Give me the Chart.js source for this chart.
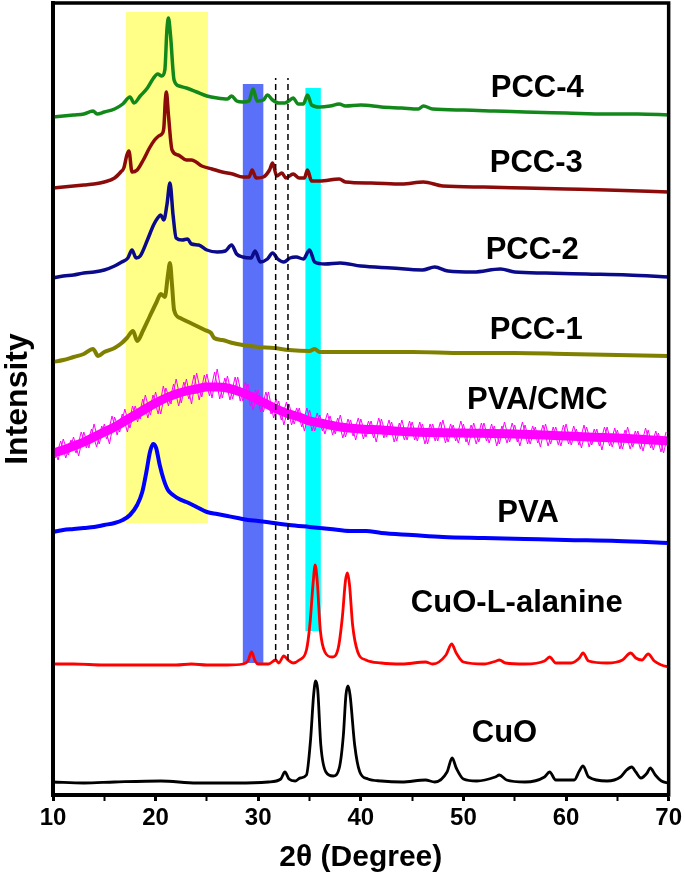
<!DOCTYPE html>
<html>
<head>
<meta charset="utf-8">
<script src="https://cdn.jsdelivr.net/npm/chart.js@4.4.1/dist/chart.umd.min.js"></script>
<style>
    html, body { margin: 0; padding: 0; background: #fff; }
    #wrap { width: 685px; height: 881px; }
</style>
</head>
<body>
<div id="wrap"><canvas id="xrd" width="685" height="881"></canvas></div>
<script>
// 2θ in degrees, intensity in arbitrary units (traces stacked as in the figure)
const pcc4 = [
    [10, 678], [11, 679], [12, 680], [13, 681], [13.9, 684], [14.3, 681], [15, 683], [16, 686],
    [16.8, 691], [17.5, 698], [17.9, 692], [18.5, 699], [19.2, 707], [19.8, 717], [20.2, 721],
    [20.6, 719], [20.9, 725], [21.1, 765], [21.25, 777], [21.45, 760], [21.8, 715], [22.3, 709],
    [23, 707], [24, 703], [25, 699], [26, 697], [27, 696], [27.4, 699], [27.9, 694], [28.5, 693],
    [29.1, 694], [29.5, 706], [29.9, 694], [30.5, 695], [30.9, 700], [31.4, 695], [32, 692],
    [32.6, 692], [33.1, 695], [33.4, 697], [33.9, 691], [34.4, 691], [34.8, 700], [35.2, 690],
    [36, 688], [37, 689], [37.9, 691], [38.5, 689], [40, 690], [42, 688], [44, 687], [45.6, 686],
    [46.1, 689], [47, 686], [50, 685], [53, 684], [56, 683], [60, 682], [64, 681], [67, 681], [70, 680]
];
const pcc3 = [
    [10, 607], [11, 608], [12, 609], [13, 610], [14, 611], [15, 613], [16, 617], [16.6, 623],
    [16.9, 627], [17.2, 640], [17.4, 644], [17.7, 623], [18.2, 625], [18.8, 635], [19.4, 647],
    [19.9, 655], [20.3, 659], [20.6, 661], [20.8, 667], [20.95, 695], [21.05, 703], [21.25, 680],
    [21.6, 645], [22.2, 640], [23, 635], [23.5, 635], [24.5, 629], [25.5, 626], [26.5, 623],
    [27.5, 621], [28.5, 618], [29.1, 618], [29.4, 625], [29.8, 617], [30.5, 618], [31.1, 625],
    [31.4, 632], [31.8, 619], [32.3, 622], [32.7, 617], [33.4, 621], [34, 617], [34.5, 617],
    [34.8, 625], [35.2, 614], [36, 614], [37.9, 616], [38.5, 613], [41, 612], [44, 611],
    [46.1, 613], [48, 609], [52, 608], [56, 607], [60, 606], [64, 605], [70, 603]
];
const pcc2 = [
    [10, 517], [11, 519], [12, 520], [13, 522], [14, 523], [15, 525], [16, 529], [16.7, 533],
    [17.3, 537], [17.7, 545], [18.1, 537], [18.5, 539], [19.2, 555], [19.8, 570], [20.2, 577],
    [20.5, 580], [20.8, 575], [21.1, 590], [21.4, 612], [21.7, 580], [22, 557], [22.6, 555],
    [23.1, 556], [23.5, 551], [24.2, 550], [25, 545], [26, 543], [26.8, 544], [27.4, 550],
    [27.9, 541], [28.5, 538], [29.3, 537], [29.7, 544], [30.2, 533], [30.9, 536], [31.4, 542],
    [31.9, 536], [32.5, 533], [33.1, 537], [33.7, 538], [34.4, 536], [35, 545], [35.5, 533],
    [36.5, 531], [38, 532], [40, 529], [43, 527], [46, 525], [47.2, 528], [48.5, 524], [51, 523],
    [53.6, 526], [55, 523], [58, 522], [62, 521], [66, 520], [70, 518]
];
const pcc1 = [
    [10, 433], [11, 435], [12, 438], [13, 441], [13.9, 446], [14.4, 439], [15, 443], [16, 447],
    [16.7, 452], [17.2, 457], [17.8, 464], [18.2, 454], [18.8, 465], [19.4, 478], [20.1, 493],
    [20.5, 501], [20.9, 498], [21.2, 520], [21.4, 532], [21.6, 510], [21.8, 485], [22.4, 477],
    [23.2, 473], [24, 469], [24.8, 465], [25.4, 462], [25.7, 457], [26.5, 455], [27.5, 452],
    [28.5, 450], [30, 448], [31.5, 447], [33, 445], [35, 444], [35.5, 446], [36, 443], [40, 443],
    [45, 443], [50, 442], [55, 442], [60, 441], [65, 440], [70, 439]
];
// PVA/CMC: centre of the noisy band and two sets of spikes around it
const pvaCmcCentre = [
    [10, 342], [11, 345], [12, 349], [13, 353], [14, 358], [15, 363], [16, 368], [17, 374],
    [18, 380], [19, 386], [20, 392], [21, 397], [22, 401], [23, 404], [24, 406], [25, 408],
    [26, 408], [27, 407], [28, 404], [29, 400], [30, 395], [31, 390], [32, 385], [33, 381],
    [34, 378], [35, 374], [36, 372], [38, 368], [40, 366], [42, 365], [45, 363], [50, 362],
    [55, 361], [60, 359], [65, 357], [70, 354]
];
const pvaCmcNoiseA = [
    [10, 350], [10.5, 335], [11, 356], [11.5, 340], [12, 358], [12.5, 339], [13, 363], [13.5, 347],
    [14, 371], [14.5, 351], [15, 371], [15.5, 351], [16, 378], [16.5, 363], [17, 386], [17.5, 367],
    [18, 389], [18.5, 376], [19, 400], [19.5, 380], [20, 403], [20.5, 381], [21, 407], [21.5, 391],
    [22, 416], [22.5, 392], [23, 416], [23.5, 391], [24, 422], [24.5, 398], [25, 421], [25.5, 397],
    [26, 426], [26.5, 397], [27, 419], [27.5, 396], [28, 418], [28.5, 394], [29, 411], [29.5, 385],
    [30, 405], [30.5, 383], [31, 403], [31.5, 377], [32, 394], [32.5, 370], [33, 391], [33.5, 371],
    [34, 387], [34.5, 364], [35, 385], [35.5, 364], [36, 380], [36.5, 361], [37, 379], [37.5, 361],
    [38, 380], [38.5, 358], [39, 375], [39.5, 355], [40, 376], [40.5, 358], [41, 374], [41.5, 353],
    [42, 376], [42.5, 358], [43, 373], [43.5, 354], [44, 375], [44.5, 355], [45, 373], [45.5, 354],
    [46, 371], [46.5, 351], [47, 371], [47.5, 354], [48, 375], [48.5, 353], [49, 370], [49.5, 352],
    [50, 371], [50.5, 350], [51, 372], [51.5, 353], [52, 372], [52.5, 352], [53, 369], [53.5, 351],
    [54, 373], [54.5, 353], [55, 370], [55.5, 349], [56, 370], [56.5, 351], [57, 368], [57.5, 348],
    [58, 371], [58.5, 351], [59, 368], [59.5, 349], [60, 371], [60.5, 350], [61, 366], [61.5, 347],
    [62, 368], [62.5, 350], [63, 366], [63.5, 345], [64, 368], [64.5, 348], [65, 365], [65.5, 346],
    [66, 368], [66.5, 348], [67, 364], [67.5, 344], [68, 365], [68.5, 345], [69, 362], [69.5, 342],
    [70, 363]
];
const pvaCmcNoiseB = [
    [10.25, 337], [10.75, 354], [11.25, 337], [11.75, 355], [12.25, 342], [12.75, 363], [13.25, 347],
    [13.75, 366], [14.25, 348], [14.75, 369], [15.25, 356], [15.75, 379], [16.25, 360], [16.75, 381],
    [17.25, 363], [17.75, 389], [18.25, 373], [18.75, 396], [19.25, 377], [19.75, 400], [20.25, 381],
    [20.75, 409], [21.25, 389], [21.75, 411], [22.25, 389], [22.75, 413], [23.25, 396], [23.75, 420],
    [24.25, 395], [24.75, 420], [25.25, 399], [25.75, 423], [26.25, 396], [26.75, 417], [27.25, 395],
    [27.75, 418], [28.25, 394], [28.75, 413], [29.25, 389], [29.75, 405], [30.25, 383], [30.75, 403],
    [31.25, 381], [31.75, 396], [32.25, 375], [32.75, 393], [33.25, 370], [33.75, 387], [34.25, 368],
    [34.75, 387], [35.25, 364], [35.75, 382], [36.25, 364], [36.75, 382], [37.25, 360], [37.75, 377],
    [38.25, 357], [38.75, 376], [39.25, 359], [39.75, 377], [40.25, 356], [40.75, 374], [41.25, 357],
    [41.75, 377], [42.25, 357], [42.75, 375], [43.25, 353], [43.75, 372], [44.25, 355], [44.75, 374],
    [45.25, 355], [45.75, 373], [46.25, 351], [46.75, 371], [47.25, 354], [47.75, 373], [48.25, 352],
    [48.75, 371], [49.25, 354], [49.75, 374], [50.25, 353], [50.75, 370], [51.25, 351], [51.75, 372],
    [52.25, 354], [52.75, 371], [53.25, 349], [53.75, 369], [54.25, 352], [54.75, 372], [55.25, 353],
    [55.75, 373], [56.25, 351], [56.75, 369], [57.25, 352], [57.75, 370], [58.25, 349], [58.75, 368],
    [59.25, 350], [59.75, 370], [60.25, 351], [60.75, 369], [61.25, 350], [61.75, 370], [62.25, 348],
    [62.75, 366], [63.25, 349], [63.75, 368], [64.25, 349], [64.75, 367], [65.25, 346], [65.75, 365],
    [66.25, 346], [66.75, 364], [67.25, 346], [67.75, 367], [68.25, 347], [68.75, 364], [69.25, 343],
    [69.75, 363]
];
const pva = [
    [10, 263], [11, 265], [12, 266], [13, 267], [14, 268], [15, 270], [16, 272], [16.8, 275],
    [17.5, 280], [18.2, 290], [18.7, 303], [19.1, 323], [19.45, 343], [19.75, 351], [20.05, 347],
    [20.4, 330], [20.8, 315], [21.2, 305], [21.7, 300], [22.3, 296], [23, 293], [24, 288], [25, 283],
    [26, 281], [27, 279], [28, 277], [29, 275], [30, 274], [31.5, 272], [33, 270], [35, 268],
    [37, 266], [39, 264], [40.5, 264], [42, 262], [45, 260], [48, 258], [52, 257], [56, 256],
    [60, 255], [65, 254], [70, 252]
];
const cuoAla = [
    [10, 131], [12, 131], [15, 130], [18, 130], [20, 130], [22, 130], [23.5, 131], [25, 130],
    [27, 130], [28.5, 131], [29.0, 134], [29.35, 143], [29.7, 134], [30, 131], [31, 131],
    [31.7, 135], [32.0, 132], [32.5, 139], [32.9, 135], [33.4, 132], [34, 135], [34.7, 145],
    [35.05, 172], [35.35, 212], [35.55, 230], [35.75, 214], [36.05, 165], [36.5, 143], [37.2, 138],
    [37.8, 147], [38.2, 178], [38.5, 214], [38.7, 222], [38.9, 210], [39.2, 170], [39.7, 143],
    [40.5, 135], [42, 132], [44, 131], [46.3, 133], [47, 131], [48.3, 140], [48.85, 151],
    [49.3, 142], [50, 133], [52, 131], [53.2, 134], [53.5, 135], [54.1, 132], [56, 131],
    [57.9, 134], [58.4, 138], [59, 132], [60.5, 132], [61.3, 137], [61.65, 142], [62.2, 134],
    [64, 132], [65.5, 135], [66.3, 142], [66.8, 137], [67.4, 135], [68.0, 141], [68.6, 134],
    [69.3, 130], [70, 128]
];
const cuo = [
    [10, 13], [13, 12], [16, 13], [20.5, 14], [24, 12], [28, 12], [31, 13], [32.2, 16], [32.6, 23],
    [33.0, 16], [33.6, 14], [34.1, 17], [34.7, 20], [35.1, 55], [35.4, 100], [35.6, 114],
    [35.8, 105], [36.1, 50], [36.6, 23], [37.3, 19], [37.9, 27], [38.3, 60], [38.55, 100],
    [38.75, 109], [38.95, 100], [39.4, 50], [39.9, 23], [40.7, 16], [42, 14], [44, 13], [46.3, 15],
    [47.2, 13], [48.4, 23], [48.9, 37], [49.3, 27], [50, 16], [51.3, 14], [53.1, 18], [53.5, 20],
    [54.2, 15], [56, 13], [57.9, 18], [58.4, 23], [59, 15], [60.8, 15], [61.3, 24], [61.65, 29],
    [62.2, 18], [64, 14], [65.3, 18], [65.9, 25], [66.4, 28], [66.8, 23], [67.3, 17], [67.9, 22],
    [68.2, 27], [68.7, 20], [69.3, 14], [70, 12]
];

// shaded 2θ ranges and dashed marker positions
const bands = [
    { from: 17.1, to: 25.1, lower: 272, upper: 783, color: '#ffff88' },
    { from: 28.5, to: 30.5, lower: 132, upper: 711, color: '#5a70f8' },
    { from: 34.6, to: 36.1, lower: 164, upper: 707, color: '#00ffff' },
];
const dashedAt = [31.7, 32.9];
const dashedRange = [135, 717];

const labels = [
    { text: 'PCC-4', x: 57.2, y: 707 },
    { text: 'PCC-3', x: 57.1, y: 632 },
    { text: 'PCC-2', x: 56.7, y: 545 },
    { text: 'PCC-1', x: 57.1, y: 465 },
    { text: 'PVA/CMC', x: 57.2, y: 395 },
    { text: 'PVA', x: 56.3, y: 282 },
    { text: 'CuO-L-alanine', x: 55.2, y: 192 },
    { text: 'CuO', x: 54.0, y: 62 },
];

const FONT = "'Liberation Sans', Arial, sans-serif";

const toPts = arr => arr.map(p => ({ x: p[0], y: p[1] }));

const trace = (label, arr, color, width) => ({
    label,
    data: toPts(arr),
    borderColor: color,
    borderWidth: width,
    pointRadius: 0,
    fill: false,
    cubicInterpolationMode: 'monotone',
});

const noise = (label, arr, color, width) => ({
    label,
    data: toPts(arr),
    borderColor: color,
    borderWidth: width,
    pointRadius: 0,
    fill: false,
    tension: 0,
});

const datasets = [];
for (const xv of dashedAt) {
    datasets.push({
        label: 'marker',
        data: [{ x: xv, y: dashedRange[0] }, { x: xv, y: dashedRange[1] }],
        borderColor: '#000',
        borderWidth: 1.5,
        borderDash: [6, 4],
        pointRadius: 0,
    });
}
datasets.push(
    trace('PCC-4', pcc4, '#12881a', 3.5),
    trace('PCC-3', pcc3, '#8b0a0a', 3.5),
    trace('PCC-2', pcc2, '#0a0a8a', 3.5),
    trace('PCC-1', pcc1, '#808000', 4),
    noise('PVA/CMC a', pvaCmcNoiseA, '#ff00ff', 1),
    noise('PVA/CMC b', pvaCmcNoiseB, '#ff00ff', 1),
    trace('PVA/CMC', pvaCmcCentre, '#ff00ff', 9),
    trace('PVA', pva, '#0000ff', 4),
    trace('CuO-L-alanine', cuoAla, '#ff0000', 2.8),
    trace('CuO', cuo, '#000000', 2.8),
);

const decorations = {
    id: 'decorations',
    beforeDatasetsDraw(chart) {
        const { ctx, scales: { x, y } } = chart;
        ctx.save();
        for (const b of bands) {
            const x0 = x.getPixelForValue(b.from);
            const x1 = x.getPixelForValue(b.to);
            const y0 = y.getPixelForValue(b.upper);
            const y1 = y.getPixelForValue(b.lower);
            ctx.fillStyle = b.color;
            ctx.fillRect(x0, y0, x1 - x0, y1 - y0);
        }
        ctx.restore();
    },
    afterDraw(chart) {
        const { ctx, chartArea: a, scales: { x, y } } = chart;
        ctx.save();
        ctx.strokeStyle = '#000';
        ctx.lineWidth = 3.5;
        ctx.strokeRect(a.left, a.top, a.right - a.left, a.bottom - a.top);

        ctx.fillStyle = '#000';
        ctx.font = `bold 31px ${FONT}`;
        ctx.textAlign = 'center';
        ctx.textBaseline = 'middle';
        for (const l of labels) {
            ctx.fillText(l.text, x.getPixelForValue(l.x), y.getPixelForValue(l.y));
        }
        ctx.restore();
    },
};

new Chart(document.getElementById('xrd'), {
    type: 'line',
    data: { datasets },
    options: {
        responsive: false,
        animation: false,
        layout: { padding: { left: 0, right: 16, top: 3, bottom: 0 } },
        plugins: {
            legend: { display: false },
            tooltip: { enabled: false },
        },
        scales: {
            x: {
                type: 'linear',
                min: 10,
                max: 70,
                afterFit: axis => { axis.height = 86; },
                ticks: {
                    stepSize: 5,
                    color: '#000',
                    padding: 3,
                    maxRotation: 0,
                    font: { size: 24, weight: 'bold', family: FONT },
                    callback: v => (v % 10 === 0 ? v : ''),
                },
                grid: {
                    drawOnChartArea: false,
                    tickLength: 6,
                    tickColor: '#000',
                    tickWidth: c => (c.tick && c.tick.value % 10 === 0 ? 3 : 2),
                },
                border: { display: true, color: '#000', width: 4 },
                title: {
                    display: true,
                    text: '2θ (Degree)',
                    color: '#000',
                    font: { size: 30, weight: 'bold', family: FONT, lineHeight: 1.2 },
                    padding: { top: 0, bottom: 5 },
                },
            },
            y: {
                min: 0,
                max: 792,
                afterFit: axis => { axis.width = 53; },
                ticks: { display: false },
                grid: { display: false },
                border: { display: true, color: '#000', width: 4 },
                title: {
                    display: true,
                    text: 'Intensity',
                    color: '#000',
                    font: { size: 32, weight: 'bold', family: FONT, lineHeight: 1 },
                    padding: { top: 2, bottom: 0 },
                },
            },
        },
    },
    plugins: [decorations],
});
</script>
</body>
</html>
